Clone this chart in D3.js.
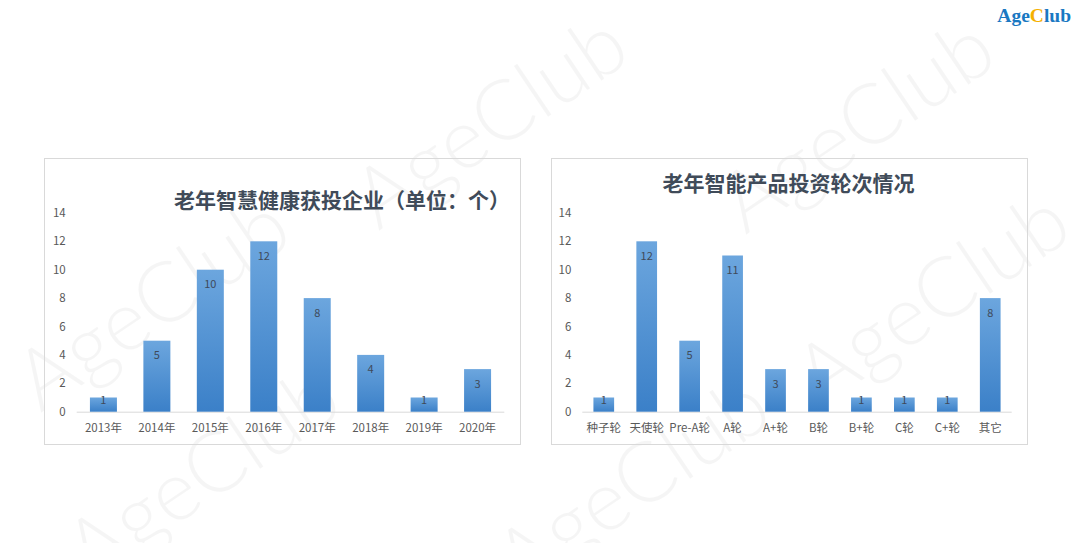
<!DOCTYPE html>
<html><head><meta charset="utf-8">
<script src="https://cdn.jsdelivr.net/npm/d3@7/dist/d3.min.js"></script>
<style>
html,body{margin:0;padding:0;background:#fff;}
svg{display:block;}
</style></head>
<body><svg id="c" width="1080" height="543"></svg>
<script>
// ---- data ----
const yearCategories = ["2013年","2014年","2015年","2016年","2017年","2018年","2019年","2020年"];
const yearValues = [1,5,10,12,8,4,1,3];
const roundCategories = ["种子轮","天使轮","Pre-A轮","A轮","A+轮","B轮","B+轮","C轮","C+轮","其它"];
const roundValues = [1,12,5,11,3,3,1,1,1,8];
const yTicks = [0,2,4,6,8,10,12,14];
const leftTitle = "老年智慧健康获投企业（单位：个）";
const rightTitle = "老年智能产品投资轮次情况";
const watermarkText = "AgeClub";

const svg = d3.select("#c");
const FONT = "'Noto Sans CJK SC','Noto Sans',sans-serif";

const defs = svg.append("defs");
const grad = defs.append("linearGradient").attr("id","barGrad")
  .attr("x1",0).attr("y1",0).attr("x2",0).attr("y2",1);
grad.append("stop").attr("offset","0%").attr("stop-color","#6ca6de");
grad.append("stop").attr("offset","100%").attr("stop-color","#3b80c8");

// watermarks
const wm = [[488,118],[855,122],[150,300],[930,295],[200,470],[630,480]];
svg.append("g").selectAll("text").data(wm).join("text")
  .attr("transform", d => `translate(${d[0]},${d[1]}) rotate(-34)`)
  .attr("text-anchor","middle").attr("dominant-baseline","central")
  .style("font-family","Lato,'Open Sans',sans-serif").style("font-weight",300)
  .style("font-size","84px").attr("fill","#000").attr("fill-opacity",0.04)
  .text(watermarkText);

// logo
const logo = svg.append("text").attr("x",1071).attr("y",22).attr("text-anchor","end")
  .style("font-family","'Liberation Serif','DejaVu Serif',serif").style("font-weight","bold")
  .style("font-size","19.5px");
logo.append("tspan").attr("fill","#1a78c2").text("Age");
logo.append("tspan").attr("fill","#f5b000").text("C");
logo.append("tspan").attr("fill","#1a78c2").text("lub");

function drawChart(cfg){
  const g = svg.append("g");
  g.append("rect").attr("x",cfg.box[0]+0.5).attr("y",cfg.box[1]+0.5)
    .attr("width",cfg.box[2]).attr("height",cfg.box[3])
    .attr("fill","none").attr("stroke","#d9d9d9").attr("stroke-width",1);

  const y = d3.scaleLinear().domain([0,14]).range([411.7,212.9]);
  const x = d3.scaleBand().domain(cfg.categories).range(cfg.xr)
    .paddingInner(cfg.pad).paddingOuter(cfg.pad/2);

  // title
  g.append("text").attr("x",cfg.titlePos[0]).attr("y",cfg.titlePos[1])
    .attr("text-anchor",cfg.titleAnchor).attr("dominant-baseline","central")
    .style("font-family",FONT).style("font-weight","bold").style("font-size","21px")
    .attr("fill","#404b59").text(cfg.title);

  // y axis labels
  const ya = d3.axisLeft(y).tickValues(yTicks).tickSize(0).tickPadding(0);
  const yg = g.append("g").attr("transform",`translate(${cfg.xr[0]-11},0)`).call(ya);
  yg.select(".domain").remove();
  yg.selectAll("text").style("font-family",FONT).style("font-size","11.5px").attr("fill","#595959");

  // x axis
  const xa = d3.axisBottom(x).tickSize(0).tickPadding(0);
  const xg = g.append("g").attr("transform",`translate(0,${y(0)})`).call(xa);
  xg.select(".domain").attr("stroke","#d9d9d9").attr("d",`M${cfg.xr[0]},0.5H${cfg.xr[1]}`);
  xg.selectAll("text").attr("dy",null).attr("y",15).attr("dominant-baseline","central")
    .style("font-family",FONT).style("font-size","11.5px").attr("fill","#595959");

  // bars
  const data = cfg.categories.map((c,i)=>({c, v:cfg.values[i]}));
  g.append("g").selectAll("rect").data(data).join("rect")
    .attr("x",d=>x(d.c)).attr("width",x.bandwidth())
    .attr("y",d=>y(d.v)).attr("height",d=>y(0)-y(d.v))
    .attr("fill","url(#barGrad)");

  g.append("g").selectAll("text").data(data).join("text")
    .attr("x",d=>x(d.c)+x.bandwidth()/2)
    .attr("y",d=>Math.min(y(d.v)+13.5, y(0)-12.7))
    .attr("text-anchor","middle").attr("dominant-baseline","central")
    .style("font-family",FONT).style("font-size","11px").attr("fill","#3f4a5a")
    .text(d=>d.v);
}

drawChart({categories:yearCategories, values:yearValues, box:[44,158,476,286],
  xr:[76.7,504.3], pad:0.495, title:leftTitle, titlePos:[174,199], titleAnchor:"start"});
drawChart({categories:roundCategories, values:roundValues, box:[551,158,476,286],
  xr:[582.3,1011.7], pad:0.518, title:rightTitle, titlePos:[788.5,182], titleAnchor:"middle"});
</script>
</body></html>
